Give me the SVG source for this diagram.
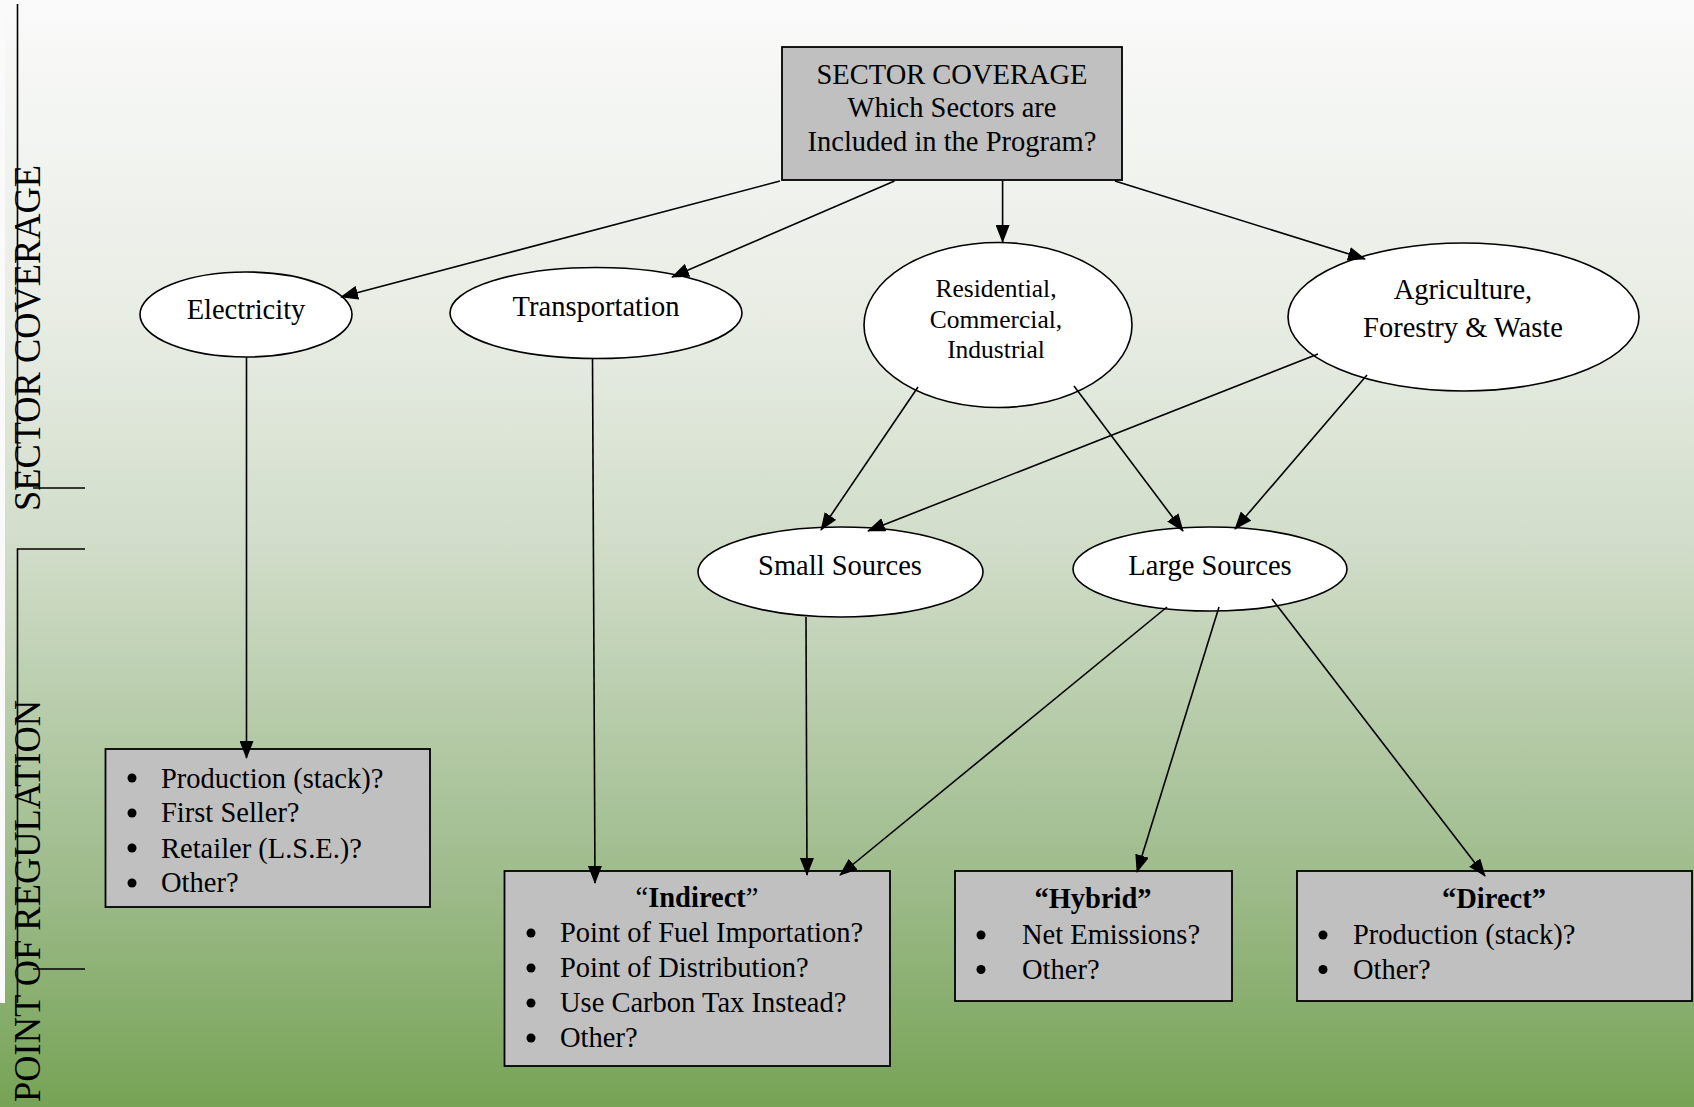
<svg xmlns="http://www.w3.org/2000/svg" width="1694" height="1107" viewBox="0 0 1694 1107">
<style>
text{font-family:"Liberation Serif","Times New Roman",serif;fill:#000}
.t{font-size:28.5px}
.tc{text-anchor:middle}
.b{font-weight:bold}
.box{fill:#c0c0c0;stroke:#000;stroke-width:1.8}
.ell{fill:#fff;stroke:#000;stroke-width:1.6}
.ax{stroke:#000;stroke-width:1.6;fill:none}
.c line{stroke:#000;stroke-width:1.6;marker-end:url(#ah)}
.side{font-size:37px}
</style>
<defs>
<linearGradient id="bg" x1="0" y1="0" x2="0" y2="1">
<stop offset="0" stop-color="#fafafa"/>
<stop offset="0.3" stop-color="#e7ece3"/>
<stop offset="0.5" stop-color="#d0dcc8"/>
<stop offset="0.8" stop-color="#9dbb8a"/>
<stop offset="1" stop-color="#76a355"/>
</linearGradient>
<marker id="ah" viewBox="0 0 18 14" refX="17" refY="7" markerWidth="18" markerHeight="14" markerUnits="userSpaceOnUse" orient="auto">
<path d="M0,0 L18,7 L0,14 z" fill="#000"/>
</marker>
</defs>
<rect x="0" y="0" width="1694" height="1107" fill="url(#bg)"/>
<rect x="0" y="0" width="5" height="1003" fill="#fafafa"/>

<g id="axis">
<line class="ax" x1="17.5" y1="4" x2="17.5" y2="488"/>
<line class="ax" x1="33" y1="488" x2="85" y2="488"/>
<polyline class="ax" points="85,549 17.5,549 17.5,1003"/>
<line class="ax" x1="33" y1="969" x2="85" y2="969"/>
<text class="side" transform="translate(40,511) rotate(-90)" textLength="346" lengthAdjust="spacingAndGlyphs">SECTOR COVERAGE</text>
<text class="side" transform="translate(40,1102) rotate(-90)" textLength="402" lengthAdjust="spacingAndGlyphs">POINT OF REGULATION</text>
</g>

<g id="sector-coverage">
<rect class="box" x="782" y="47" width="340" height="133"/>
<text class="t tc" x="952" y="83.5">SECTOR COVERAGE</text>
<text class="t tc" x="952" y="117">Which Sectors are</text>
<text class="t tc" x="952" y="150.5">Included in the Program?</text>
</g>

<g id="electricity">
<ellipse class="ell" cx="246" cy="314.5" rx="106" ry="42.5"/>
<text class="t tc" x="246" y="318.5">Electricity</text>
</g>
<g id="transportation">
<ellipse class="ell" cx="596" cy="313" rx="146" ry="45.5"/>
<text class="t tc" x="596" y="315.5">Transportation</text>
</g>
<g id="residential">
<ellipse class="ell" cx="998" cy="325" rx="134" ry="82.5"/>
<text class="tc" style="font-size:25.5px" x="996" y="297">Residential,</text>
<text class="tc" style="font-size:25.5px" x="996" y="328">Commercial,</text>
<text class="tc" style="font-size:25.5px" x="996" y="357.5">Industrial</text>
</g>
<g id="agriculture">
<ellipse class="ell" cx="1463.5" cy="317" rx="175.5" ry="74"/>
<text class="t tc" x="1463" y="299">Agriculture,</text>
<text class="t tc" x="1463" y="337">Forestry &amp; Waste</text>
</g>
<g id="small-sources">
<ellipse class="ell" cx="840.5" cy="572" rx="142.5" ry="45"/>
<text class="t tc" x="840" y="575">Small Sources</text>
</g>
<g id="large-sources">
<ellipse class="ell" cx="1210" cy="569" rx="137" ry="42"/>
<text class="t tc" x="1210" y="575">Large Sources</text>
</g>

<g id="electricity-regulation">
<rect class="box" x="105.5" y="749" width="324.5" height="158"/>
<circle cx="132" cy="778" r="4.5"/><text class="t" x="161" y="787.5">Production (stack)?</text>
<circle cx="132" cy="813" r="4.5"/><text class="t" x="161" y="822">First Seller?</text>
<circle cx="132" cy="848" r="4.5"/><text class="t" x="161" y="857.5">Retailer (L.S.E.)?</text>
<circle cx="132" cy="883" r="4.5"/><text class="t" x="161" y="892">Other?</text>
</g>

<g id="indirect">
<rect class="box" x="504.5" y="871" width="385.5" height="195"/>
<text class="t tc" x="697" y="907">“<tspan class="b">Indirect</tspan>”</text>
<circle cx="531" cy="933" r="4.5"/><text class="t" x="560" y="942">Point of Fuel Importation?</text>
<circle cx="531" cy="968" r="4.5"/><text class="t" x="560" y="977">Point of Distribution?</text>
<circle cx="531" cy="1003" r="4.5"/><text class="t" x="560" y="1012">Use Carbon Tax Instead?</text>
<circle cx="531" cy="1038" r="4.5"/><text class="t" x="560" y="1047">Other?</text>
</g>

<g id="hybrid">
<rect class="box" x="955" y="871" width="277" height="130"/>
<text class="t tc b" x="1093" y="908">“Hybrid”</text>
<circle cx="981" cy="935" r="4.5"/><text class="t" x="1022" y="944">Net Emissions?</text>
<circle cx="981" cy="969.5" r="4.5"/><text class="t" x="1022" y="978.5">Other?</text>
</g>

<g id="direct">
<rect class="box" x="1297" y="871" width="395" height="130"/>
<text class="t tc b" x="1494" y="908">“Direct”</text>
<circle cx="1323" cy="935" r="4.5"/><text class="t" x="1353" y="944">Production (stack)?</text>
<circle cx="1323" cy="969.5" r="4.5"/><text class="t" x="1353" y="978.5">Other?</text>
</g>

<g id="connectors" class="c">
<line x1="780" y1="181" x2="341" y2="297"/>
<line x1="894.5" y1="181" x2="672" y2="277"/>
<line x1="1002.6" y1="181" x2="1002.6" y2="242"/>
<line x1="1115" y1="181" x2="1365" y2="259"/>
<line x1="246.5" y1="357" x2="246.5" y2="758"/>
<line x1="592.5" y1="358" x2="595" y2="883"/>
<line x1="806" y1="617" x2="807" y2="875"/>
<line x1="1167" y1="607" x2="840" y2="875"/>
<line x1="1219" y1="607" x2="1137" y2="872"/>
<line x1="1272" y1="599" x2="1485" y2="876"/>
<line x1="918" y1="387" x2="821" y2="530"/>
<line x1="1074" y1="386" x2="1183" y2="531"/>
<line x1="1318" y1="354" x2="868" y2="531"/>
<line x1="1367" y1="375" x2="1235" y2="529"/>
</g>
</svg>
